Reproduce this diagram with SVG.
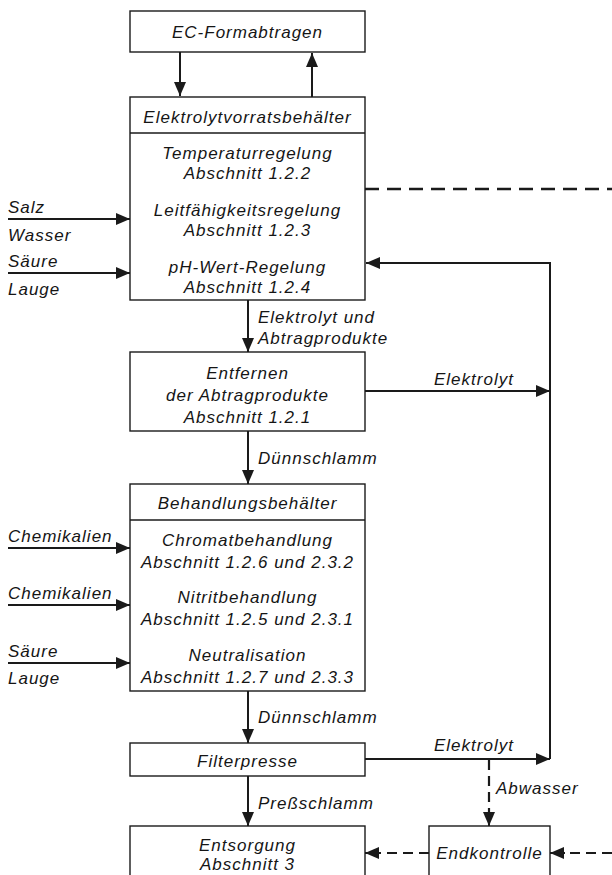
<svg xmlns="http://www.w3.org/2000/svg" width="612" height="875" viewBox="0 0 612 875">
<style>
text{font-family:"Liberation Sans",Arial,sans-serif;font-style:italic;font-size:17px;letter-spacing:1px;fill:#151515}
.c{text-anchor:middle}
.box{fill:#fff;stroke:#1a1a1a;stroke-width:1.4}
.ln{fill:none;stroke:#1a1a1a;stroke-width:2}
.dl{fill:none;stroke:#1a1a1a;stroke-width:2.5;stroke-dasharray:14 8}
.dl2{fill:none;stroke:#1a1a1a;stroke-width:2.2;stroke-dasharray:10 6}
</style>
<defs>
<marker id="ah" viewBox="0 0 14 12" refX="14" refY="6" markerWidth="14" markerHeight="12" markerUnits="userSpaceOnUse" orient="auto">
<path d="M0,0 L14,6 L0,12 Z" fill="#1a1a1a"/>
</marker>
</defs>
<rect width="612" height="875" fill="#fff"/>
<g id="connectors">
<line class="ln" x1="180" y1="52" x2="180" y2="96" marker-end="url(#ah)"/>
<line class="ln" x1="312" y1="97" x2="312" y2="53" marker-end="url(#ah)"/>
<line class="dl" x1="365" y1="189" x2="612" y2="189"/>
<line class="ln" x1="8" y1="219" x2="130" y2="219" marker-end="url(#ah)"/>
<line class="ln" x1="8" y1="273" x2="130" y2="273" marker-end="url(#ah)"/>
<polyline class="ln" points="550,759 550,263 366,263" marker-end="url(#ah)"/>
<line class="ln" x1="248" y1="300" x2="248" y2="352" marker-end="url(#ah)"/>
<line class="ln" x1="365" y1="391" x2="550" y2="391" marker-end="url(#ah)"/>
<line class="ln" x1="248" y1="431" x2="248" y2="484" marker-end="url(#ah)"/>
<line class="ln" x1="8" y1="548" x2="130" y2="548" marker-end="url(#ah)"/>
<line class="ln" x1="8" y1="605" x2="130" y2="605" marker-end="url(#ah)"/>
<line class="ln" x1="8" y1="663" x2="130" y2="663" marker-end="url(#ah)"/>
<line class="ln" x1="248" y1="691" x2="248" y2="743" marker-end="url(#ah)"/>
<line class="ln" x1="365" y1="759" x2="550" y2="759" marker-end="url(#ah)"/>
<line class="dl2" x1="489" y1="760" x2="489" y2="812"/>
<line class="ln" x1="489" y1="810" x2="489" y2="826" marker-end="url(#ah)"/>
<line class="ln" x1="248" y1="776" x2="248" y2="826" marker-end="url(#ah)"/>
<line class="dl2" x1="429" y1="853" x2="378" y2="853"/>
<line class="ln" x1="380" y1="853" x2="365" y2="853" marker-end="url(#ah)"/>
<line class="dl2" x1="612" y1="853" x2="563" y2="853"/>
<line class="ln" x1="565" y1="853" x2="550" y2="853" marker-end="url(#ah)"/>
</g>
<g id="labels">
<text x="8" y="213">Salz</text>
<text x="8" y="241">Wasser</text>
<text x="8" y="267">Säure</text>
<text x="8" y="295">Lauge</text>
<text x="258" y="323">Elektrolyt und</text>
<text x="258" y="344">Abtragprodukte</text>
<text x="434" y="385">Elektrolyt</text>
<text x="258" y="464">Dünnschlamm</text>
<text x="8" y="542">Chemikalien</text>
<text x="8" y="599">Chemikalien</text>
<text x="8" y="657">Säure</text>
<text x="8" y="684">Lauge</text>
<text x="258" y="723">Dünnschlamm</text>
<text x="434" y="751">Elektrolyt</text>
<text x="496" y="794">Abwasser</text>
<text x="258" y="809">Preßschlamm</text>
</g>
<g id="ec-formabtragen">
<rect class="box" x="130" y="11" width="235" height="41"/>
<text class="c" x="247.5" y="38">EC-Formabtragen</text>
</g>
<g id="elektrolytvorratsbehaelter">
<rect class="box" x="130" y="97" width="235" height="203"/>
<line class="box" x1="130" y1="133" x2="365" y2="133"/>
<text class="c" x="247.5" y="123">Elektrolytvorratsbehälter</text>
<text class="c" x="247.5" y="159">Temperaturregelung</text>
<text class="c" x="247.5" y="179">Abschnitt 1.2.2</text>
<text class="c" x="247.5" y="216">Leitfähigkeitsregelung</text>
<text class="c" x="247.5" y="236">Abschnitt 1.2.3</text>
<text class="c" x="247.5" y="273">pH-Wert-Regelung</text>
<text class="c" x="247.5" y="293">Abschnitt 1.2.4</text>
</g>
<g id="entfernen">
<rect class="box" x="130" y="352" width="235" height="79"/>
<text class="c" x="247.5" y="379">Entfernen</text>
<text class="c" x="247.5" y="401">der Abtragprodukte</text>
<text class="c" x="247.5" y="423">Abschnitt 1.2.1</text>
</g>
<g id="behandlungsbehaelter">
<rect class="box" x="130" y="484" width="235" height="207"/>
<line class="box" x1="130" y1="520" x2="365" y2="520"/>
<text class="c" x="247.5" y="509">Behandlungsbehälter</text>
<text class="c" x="247.5" y="546">Chromatbehandlung</text>
<text class="c" x="247.5" y="568">Abschnitt 1.2.6 und 2.3.2</text>
<text class="c" x="247.5" y="603">Nitritbehandlung</text>
<text class="c" x="247.5" y="625">Abschnitt 1.2.5 und 2.3.1</text>
<text class="c" x="247.5" y="661">Neutralisation</text>
<text class="c" x="247.5" y="683">Abschnitt 1.2.7 und 2.3.3</text>
</g>
<g id="filterpresse">
<rect class="box" x="130" y="743" width="235" height="33"/>
<text class="c" x="247.5" y="767">Filterpresse</text>
</g>
<g id="entsorgung">
<rect class="box" x="130" y="826" width="235" height="70"/>
<text class="c" x="247.5" y="851">Entsorgung</text>
<text class="c" x="247.5" y="870">Abschnitt 3</text>
</g>
<g id="endkontrolle">
<rect class="box" x="429" y="826" width="121" height="70"/>
<text class="c" x="489.5" y="859">Endkontrolle</text>
</g>
</svg>
